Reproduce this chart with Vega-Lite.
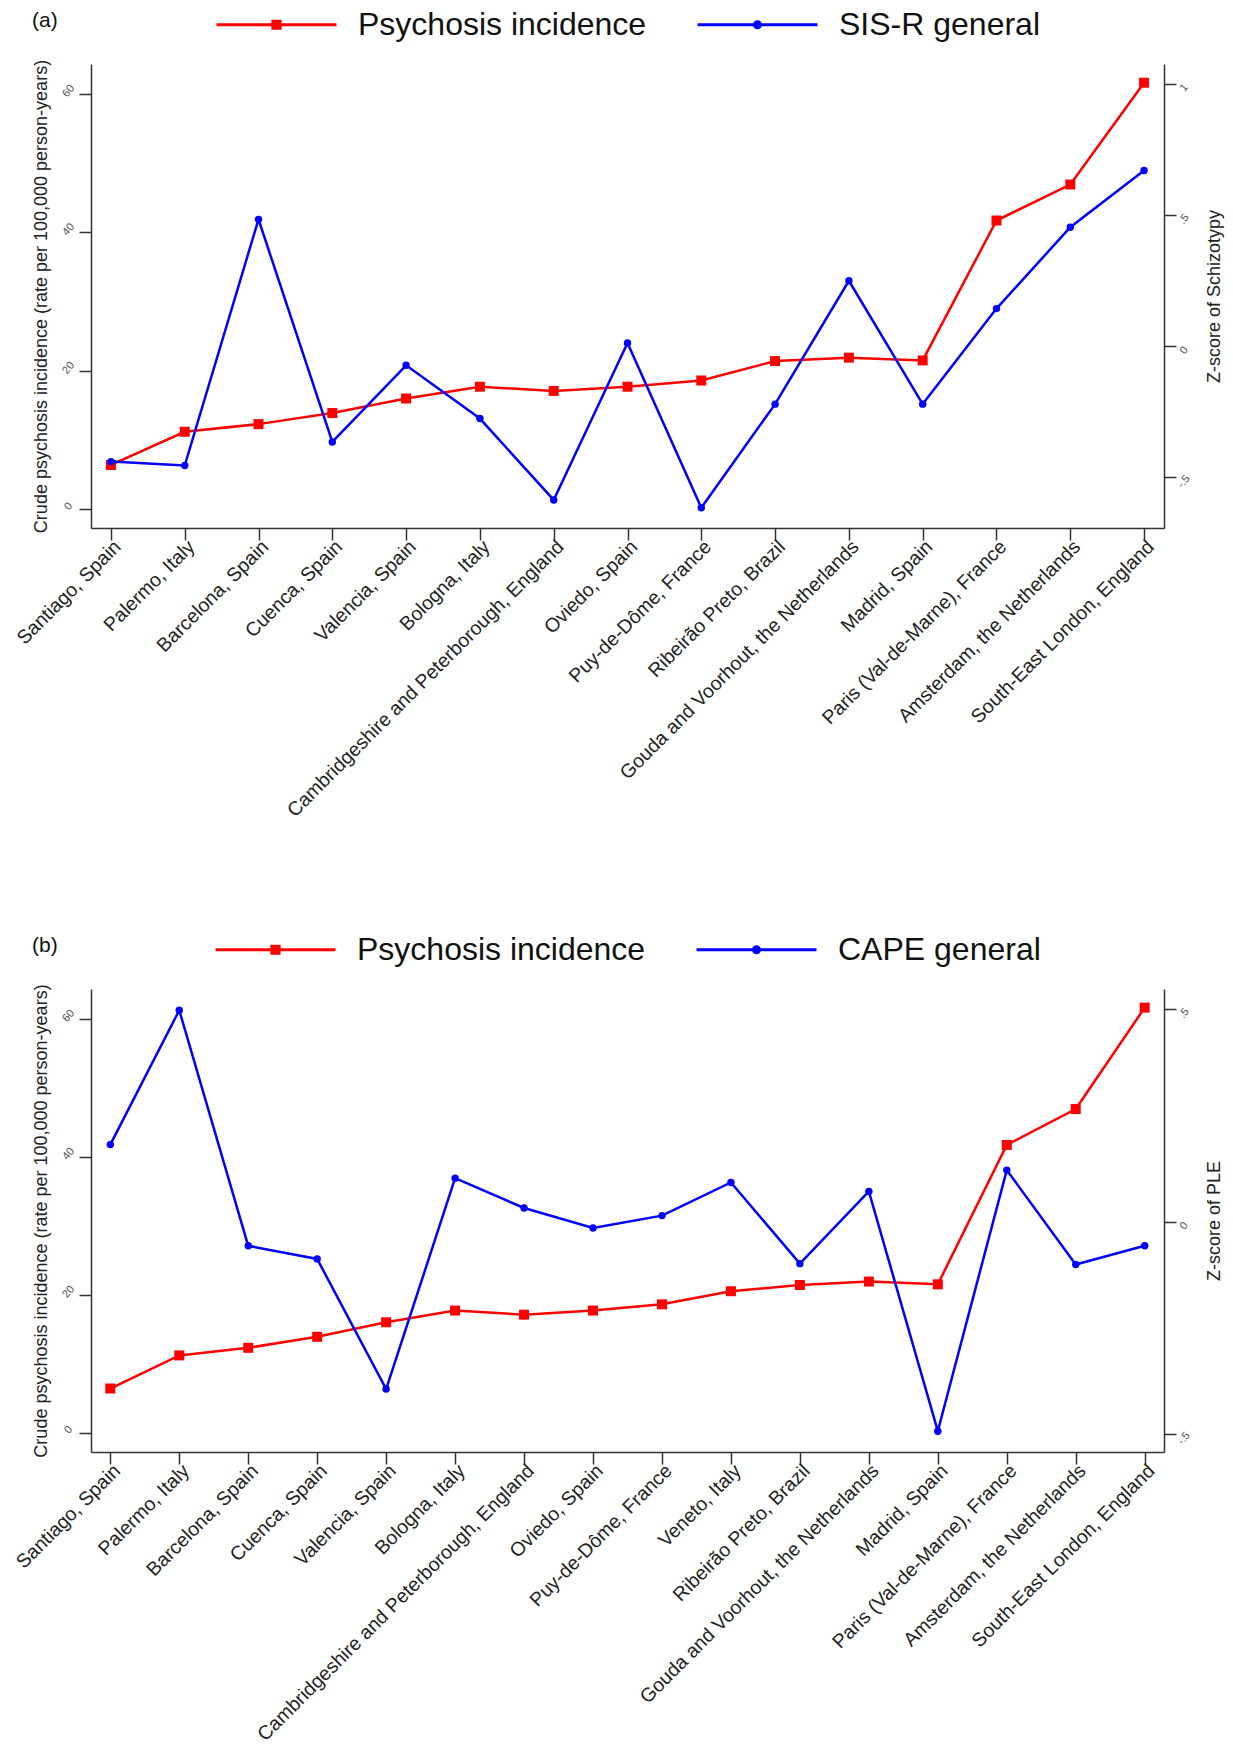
{
  "$schema": "https://vega.github.io/schema/vega-lite/v6.json",
  "background": "white",
  "padding": {"left": 12, "top": 5, "right": 5, "bottom": 0},
  "config": {
    "view": {"stroke": null},
    "font": "Liberation Sans",
    "axis": {"domainColor": "#333333", "tickColor": "#333333", "domainWidth": 1.5, "tickWidth": 1.5, "grid": false, "labelFont": "Liberation Sans", "titleFont": "Liberation Sans", "titleFontWeight": "normal", "titleColor": "#222222", "labelColor": "#222222"},
    "legend": {"layout": {"top": {"anchor": "middle"}}},
    "title": {"font": "Liberation Sans", "fontWeight": "normal", "fontSize": 21, "color": "#111111"}
  },
  "resolve": {"scale": {"stroke": "independent", "fill": "independent"}},
  "spacing": 110,
  "vconcat": [
    {
      "title": {"text": "(a)", "anchor": "start", "frame": "group", "dy": 30, "dx": -59},
      "data": {"values": [
        {"site": "Santiago, Spain", "inc": 6.4, "z": -0.44},
        {"site": "Palermo, Italy", "inc": 11.2, "z": -0.455},
        {"site": "Barcelona, Spain", "inc": 12.3, "z": 0.483},
        {"site": "Cuenca, Spain", "inc": 13.9, "z": -0.365},
        {"site": "Valencia, Spain", "inc": 16.0, "z": -0.073},
        {"site": "Bologna, Italy", "inc": 17.7, "z": -0.276},
        {"site": "Cambridgeshire and Peterborough, England", "inc": 17.1, "z": -0.586},
        {"site": "Oviedo, Spain", "inc": 17.7, "z": 0.012},
        {"site": "Puy-de-Dôme, France", "inc": 18.6, "z": -0.616},
        {"site": "Ribeirão Preto, Brazil", "inc": 21.4, "z": -0.221},
        {"site": "Gouda and Voorhout, the Netherlands", "inc": 21.9, "z": 0.249},
        {"site": "Madrid, Spain", "inc": 21.5, "z": -0.221},
        {"site": "Paris (Val-de-Marne), France", "inc": 41.7, "z": 0.143},
        {"site": "Amsterdam, the Netherlands", "inc": 46.9, "z": 0.453},
        {"site": "South-East London, England", "inc": 61.6, "z": 0.669}
      ]},
      "width": 1073,
      "height": 464,
      "encoding": {
        "x": {"field": "site", "type": "nominal", "sort": null, "scale": {"type": "point", "padding": 0.27},
          "axis": {"title": null, "labelAngle": -45, "labelAlign": "right", "labelBaseline": "top", "labelFontSize": 19.5, "tickSize": 12, "labelPadding": -3, "labelLimit": 0}}
      },
      "layer": [
        {
          "encoding": {
            "y": {"field": "inc", "type": "quantitative", "scale": {"domain": [-2.7, 64.3], "nice": false, "zero": false},
              "axis": {"orient": "left", "title": "Crude psychosis incidence (rate per 100,000 person-years)", "values": [0, 20, 40, 60], "tickSize": 12, "labelAngle": -50, "labelAlign": "center", "labelBaseline": "bottom", "labelFontSize": 11, "labelColor": "#555555", "labelPadding": 7, "titleFontSize": 18, "titlePadding": 9}}
          },
          "layer": [
            {"mark": {"type": "line", "strokeWidth": 2.5},
              "encoding": {"stroke": {"datum": "Psychosis incidence", "type": "nominal",
                "scale": {"domain": ["Psychosis incidence", "SIS-R general"], "range": ["#ff0000", "#0000ff"]},
                "legend": {"title": null, "orient": "top", "direction": "horizontal", "labelFontSize": 32, "labelColor": "#111111", "symbolSize": 1296, "symbolStrokeWidth": 3, "symbolOffset": 42, "labelOffset": 62, "columnPadding": 44, "offset": 23, "labelLimit": 0,
                  "encode": {"symbols": {"update": {
                    "shape": {"signal": "datum.value === 'Psychosis incidence' ? 'M-3.333,0H3.333M-0.2,-0.2H0.2V0.2H-0.2Z' : 'M-3.333,0H3.333M0.167,0A0.167,0.167,0,1,1,-0.167,0A0.167,0.167,0,1,1,0.167,0Z'"},
                    "fill": {"signal": "datum.value === 'Psychosis incidence' ? '#ff0000' : '#0000ff'"},
                    "stroke": {"signal": "datum.value === 'Psychosis incidence' ? '#ff0000' : '#0000ff'"},
                    "strokeWidth": {"value": 3},
                    "size": {"value": 1296},
                    "opacity": {"value": 1}
                  }}}}}}},
            {"mark": {"type": "point", "shape": "square", "filled": true, "size": 100, "opacity": 1},
              "encoding": {"fill": {"datum": "Psychosis incidence", "type": "nominal",
                "scale": {"domain": ["Psychosis incidence", "SIS-R general"], "range": ["#ff0000", "#0000ff"]}, "legend": null}}}
          ]
        },
        {
          "encoding": {
            "y": {"field": "z", "type": "quantitative", "scale": {"domain": [-0.693, 1.075], "nice": false, "zero": false},
              "axis": {"orient": "right", "title": "Z-score of Schizotypy", "values": [-0.5, 0, 0.5, 1], "labelExpr": "datum.value == 1 ? '1' : datum.value == 0 ? '0' : datum.value > 0 ? '.5' : '-.5'", "tickSize": 12, "labelAngle": -50, "labelAlign": "center", "labelBaseline": "top", "labelFontSize": 11, "labelColor": "#555555", "labelPadding": 3, "titleFontSize": 18, "titleAngle": -90, "titleBaseline": "top", "titlePadding": 14}}
          },
          "layer": [
            {"mark": {"type": "line", "strokeWidth": 2.5},
              "encoding": {"stroke": {"datum": "SIS-R general", "type": "nominal"}}},
            {"mark": {"type": "point", "shape": "circle", "filled": true, "size": 55, "opacity": 1},
              "encoding": {"fill": {"datum": "SIS-R general", "type": "nominal", "legend": null}}}
          ]
        }
      ],
      "resolve": {"scale": {"y": "independent"}}
    },
    {
      "title": {"text": "(b)", "anchor": "start", "frame": "group", "dy": 30, "dx": -59},
      "data": {"values": [
        {"site": "Santiago, Spain", "inc": 6.4, "z": 0.181},
        {"site": "Palermo, Italy", "inc": 11.2, "z": 0.497},
        {"site": "Barcelona, Spain", "inc": 12.3, "z": -0.057},
        {"site": "Cuenca, Spain", "inc": 13.9, "z": -0.088},
        {"site": "Valencia, Spain", "inc": 16.0, "z": -0.394},
        {"site": "Bologna, Italy", "inc": 17.7, "z": 0.102},
        {"site": "Cambridgeshire and Peterborough, England", "inc": 17.1, "z": 0.032},
        {"site": "Oviedo, Spain", "inc": 17.7, "z": -0.015},
        {"site": "Puy-de-Dôme, France", "inc": 18.6, "z": 0.014},
        {"site": "Veneto, Italy", "inc": 20.5, "z": 0.092},
        {"site": "Ribeirão Preto, Brazil", "inc": 21.4, "z": -0.099},
        {"site": "Gouda and Voorhout, the Netherlands", "inc": 21.9, "z": 0.071},
        {"site": "Madrid, Spain", "inc": 21.5, "z": -0.493},
        {"site": "Paris (Val-de-Marne), France", "inc": 41.7, "z": 0.121},
        {"site": "Amsterdam, the Netherlands", "inc": 46.9, "z": -0.101},
        {"site": "South-East London, England", "inc": 61.6, "z": -0.057}
      ]},
      "width": 1073,
      "height": 463,
      "encoding": {
        "x": {"field": "site", "type": "nominal", "sort": null, "scale": {"type": "point", "padding": 0.28},
          "axis": {"title": null, "labelAngle": -45, "labelAlign": "right", "labelBaseline": "top", "labelFontSize": 19.5, "tickSize": 12, "labelPadding": -3, "labelLimit": 0}}
      },
      "layer": [
        {
          "encoding": {
            "y": {"field": "inc", "type": "quantitative", "scale": {"domain": [-2.8, 64.3], "nice": false, "zero": false},
              "axis": {"orient": "left", "title": "Crude psychosis incidence (rate per 100,000 person-years)", "values": [0, 20, 40, 60], "tickSize": 12, "labelAngle": -50, "labelAlign": "center", "labelBaseline": "bottom", "labelFontSize": 11, "labelColor": "#555555", "labelPadding": 7, "titleFontSize": 18, "titlePadding": 9}}
          },
          "layer": [
            {"mark": {"type": "line", "strokeWidth": 2.5},
              "encoding": {"stroke": {"datum": "Psychosis incidence", "type": "nominal",
                "scale": {"domain": ["Psychosis incidence", "CAPE general"], "range": ["#ff0000", "#0000ff"]},
                "legend": {"title": null, "orient": "top", "direction": "horizontal", "labelFontSize": 32, "labelColor": "#111111", "symbolSize": 1296, "symbolStrokeWidth": 3, "symbolOffset": 42, "labelOffset": 62, "columnPadding": 44, "offset": 23, "labelLimit": 0,
                  "encode": {"symbols": {"update": {
                    "shape": {"signal": "datum.value === 'Psychosis incidence' ? 'M-3.333,0H3.333M-0.2,-0.2H0.2V0.2H-0.2Z' : 'M-3.333,0H3.333M0.167,0A0.167,0.167,0,1,1,-0.167,0A0.167,0.167,0,1,1,0.167,0Z'"},
                    "fill": {"signal": "datum.value === 'Psychosis incidence' ? '#ff0000' : '#0000ff'"},
                    "stroke": {"signal": "datum.value === 'Psychosis incidence' ? '#ff0000' : '#0000ff'"},
                    "strokeWidth": {"value": 3},
                    "size": {"value": 1296},
                    "opacity": {"value": 1}
                  }}}}}}},
            {"mark": {"type": "point", "shape": "square", "filled": true, "size": 100, "opacity": 1},
              "encoding": {"fill": {"datum": "Psychosis incidence", "type": "nominal",
                "scale": {"domain": ["Psychosis incidence", "CAPE general"], "range": ["#ff0000", "#0000ff"]}, "legend": null}}}
          ]
        },
        {
          "encoding": {
            "y": {"field": "z", "type": "quantitative", "scale": {"domain": [-0.542, 0.547], "nice": false, "zero": false},
              "axis": {"orient": "right", "title": "Z-score of PLE", "values": [-0.5, 0, 0.5], "labelExpr": "datum.value == 0 ? '0' : datum.value > 0 ? '.5' : '-.5'", "tickSize": 12, "labelAngle": -50, "labelAlign": "center", "labelBaseline": "top", "labelFontSize": 11, "labelColor": "#555555", "labelPadding": 3, "titleFontSize": 18, "titleAngle": -90, "titleBaseline": "top", "titlePadding": 14}}
          },
          "layer": [
            {"mark": {"type": "line", "strokeWidth": 2.5},
              "encoding": {"stroke": {"datum": "CAPE general", "type": "nominal"}}},
            {"mark": {"type": "point", "shape": "circle", "filled": true, "size": 55, "opacity": 1},
              "encoding": {"fill": {"datum": "CAPE general", "type": "nominal", "legend": null}}}
          ]
        }
      ],
      "resolve": {"scale": {"y": "independent"}}
    }
  ]
}
